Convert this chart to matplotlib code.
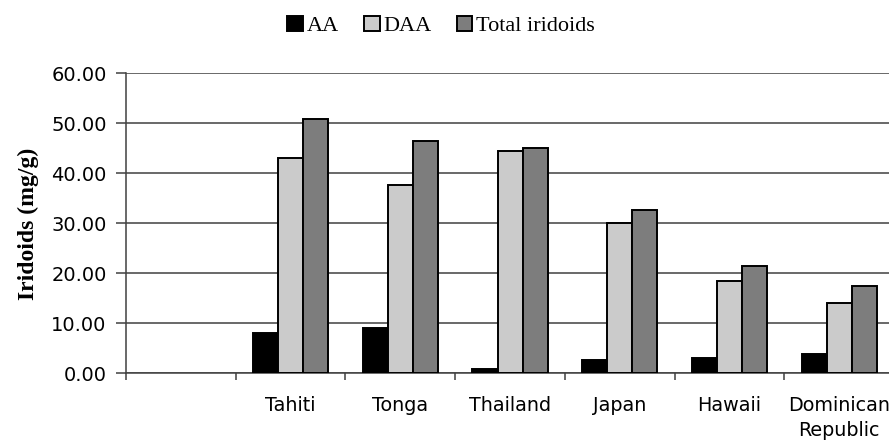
import matplotlib.pyplot as plt
import numpy as np

# Data (first slot is an empty category)
regions = ['', 'Tahiti', 'Tonga', 'Thailand', 'Japan', 'Hawaii', 'Dominican\nRepublic']
aa = [np.nan, 8.0, 9.0, 0.8, 2.6, 3.1, 3.8]
daa = [np.nan, 43.0, 37.7, 44.4, 30.0, 18.5, 14.0]
total = [np.nan, 50.8, 46.5, 45.1, 32.7, 21.4, 17.5]
yticks = [0, 10, 20, 30, 40, 50, 60]

fig = plt.figure(figsize=(8.89, 4.44), dpi=100)
ax = fig.add_axes([0.1417, 0.159, 0.864, 0.6757])

x = np.arange(len(regions))
w = 0.228
ax.bar(x - w, aa, w, color='black', edgecolor='black', linewidth=1.4, label='AA', zorder=3)
ax.bar(x, daa, w, color='#cbcbcb', edgecolor='black', linewidth=1.4, label='DAA', zorder=3)
ax.bar(x + w, total, w, color='#7d7d7d', edgecolor='black', linewidth=1.4, label='Total iridoids', zorder=3)

ax.set_xlim(-0.5, len(regions) - 0.5)
ax.set_ylim(0, 60)
ax.set_yticks(yticks)
ax.set_yticklabels(['%.2f' % v for v in yticks], fontsize=14, family='DejaVu Sans')
ax.yaxis.grid(True, color='#404040', linewidth=1.1, zorder=0)

# ticks between categories, labels at the centres
ax.set_xticks(np.arange(len(regions)) - 0.5)
ax.set_xticklabels([])
ax.set_xticks(x, minor=True)
ax.set_xticklabels(regions, minor=True, fontsize=13.8, family='DejaVu Sans', linespacing=1.4)
ax.tick_params(axis='x', which='major', length=5, color='#404040', width=1.1)
ax.tick_params(axis='x', which='minor', length=0, pad=16)
ax.tick_params(axis='y', length=7, color='#404040', width=1.1, pad=7)

for side in ['top', 'right']:
    ax.spines[side].set_visible(False)
for side in ['left', 'bottom']:
    ax.spines[side].set_color('#404040')
    ax.spines[side].set_linewidth(1.1)

ax.set_ylabel('Iridoids (mg/g)', fontsize=17, family='Liberation Serif', fontweight='bold', labelpad=9)

fig.legend(loc='upper center', bbox_to_anchor=(0.496, 1.01), ncol=3, frameon=False,
           prop={'family': 'Liberation Serif', 'size': 16},
           handlelength=0.7, handleheight=0.7, handletextpad=0.15, columnspacing=1.15)

fig.savefig('out.png', dpi=100)
